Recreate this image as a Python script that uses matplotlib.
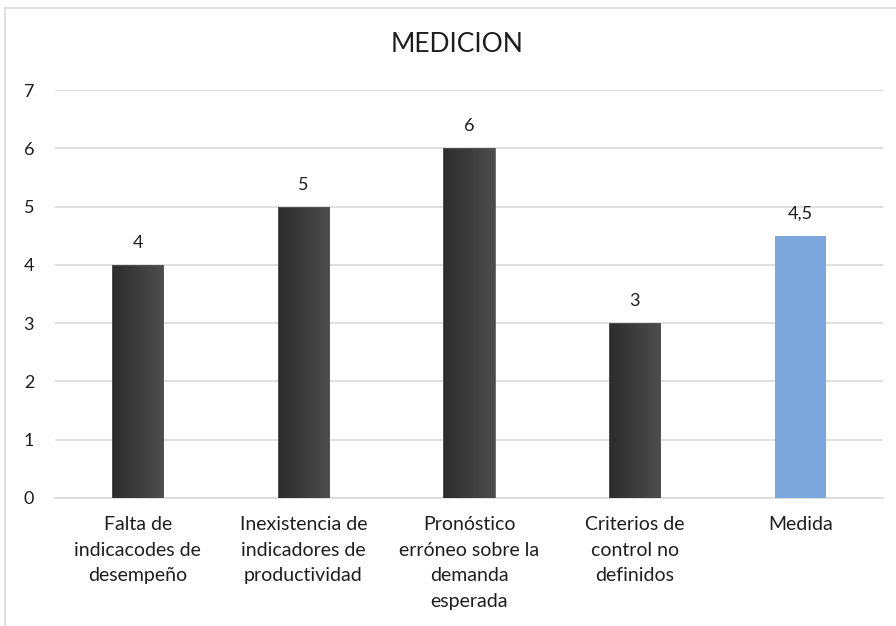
import numpy as np
import matplotlib
matplotlib.use("Agg")
import matplotlib.pyplot as plt
from matplotlib.patches import Rectangle

categories = ["Falta de\nindicacodes de\ndesempeño",
              "Inexistencia de\nindicadores de\nproductividad",
              "Pronóstico\nerróneo sobre la\ndemanda\nesperada",
              "Criterios de\ncontrol no\ndefinidos",
              "Medida"]
values = [4, 5, 6, 3, 4.5]
value_labels = ["4", "5", "6", "3", "4,5"]
yticks = [0, 1, 2, 3, 4, 5, 6, 7]

# Lato is the base of Carlito (Calibri metrics)
plt.rcParams["font.family"] = ["Lato", "DejaVu Sans"]
TXT = "#1e1e1e"

fig = plt.figure(figsize=(8.96, 6.26), dpi=100)
ax = fig.add_axes([0.0614, 0.2045, 0.9241, 0.6517])

# chart frame
fig.patches.append(Rectangle((5/896, -0.1), 1.2, 1 - 8/626 + 0.1, transform=fig.transFigure,
                             fill=False, edgecolor="#d9d9d9", linewidth=1.2))

x = np.arange(len(categories))
width = 0.31
bars = ax.bar(x, values, width=width, color="none", edgecolor="none", zorder=3)

grad = np.linspace(0, 1, 64).reshape(1, -1)
dark = matplotlib.colors.LinearSegmentedColormap.from_list("dk", ["#2c2c2c", "#4d4d4d"])
for i, b in enumerate(bars):
    x0, y0 = b.get_x(), b.get_y()
    w, h = b.get_width(), b.get_height()
    if i == len(bars) - 1:
        ax.add_patch(Rectangle((x0, y0), w, h, facecolor="#7ba7dd", edgecolor="none", zorder=3))
    else:
        im = ax.imshow(grad, cmap=dark, aspect="auto", extent=[x0, x0 + w, y0, y0 + h], zorder=3)
        clip = Rectangle((x0, y0), w, h, transform=ax.transData, facecolor="none", edgecolor="none")
        ax.add_patch(clip)
        im.set_clip_path(clip)
        ax.add_patch(Rectangle((x0, y0), w, h, facecolor="none", edgecolor="#555555", linewidth=0.6, zorder=4))
    ax.annotate(value_labels[i], (x0 + w/2, y0 + h), xytext=(0, 10), textcoords="offset points",
                ha="center", va="bottom", fontsize=13, color=TXT)

ax.set_xlim(-0.5, len(categories) - 0.5)
ax.set_ylim(0, 7)
ax.set_yticks(yticks)
ax.set_xticks(x)
ax.set_xticklabels(categories, fontsize=14, color=TXT, linespacing=1.62)
ax.tick_params(axis="both", length=0, labelsize=13, labelcolor=TXT)
ax.tick_params(axis="x", pad=13, labelsize=14)
ax.tick_params(axis="y", pad=15)
ax.grid(axis="y", color="#d9d9d9", linewidth=1.2, zorder=0)
ax.set_axisbelow(True)
for s in ["top", "right", "left"]:
    ax.spines[s].set_visible(False)
ax.spines["bottom"].set_color("#d9d9d9")
ax.spines["bottom"].set_linewidth(1.2)

fig.text(457/896, 1 - 45/626, "MEDICION", ha="center", va="center",
         fontsize=19, color=TXT)

fig.savefig("out.png", dpi=100)
